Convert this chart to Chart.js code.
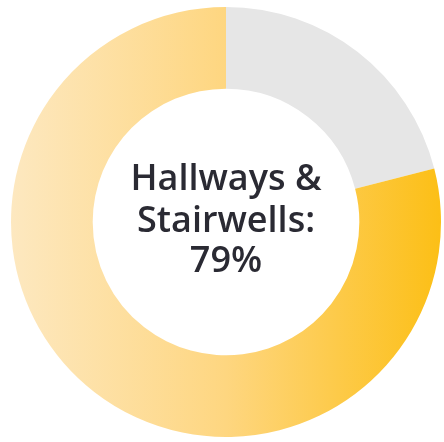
<!DOCTYPE html>
<html>
<head>
<meta charset="utf-8">
<script src="https://cdn.jsdelivr.net/npm/chart.js@4"></script>
<style>
  html, body { margin: 0; padding: 0; background: #fff; }
  #wrap { width: 444px; height: 442px; }
</style>
</head>
<body>
<div id="wrap"><canvas id="shareChart"></canvas></div>
<script>
// share of spaces
const categories = ['Other', 'Hallways & Stairwells'];
const values = [21, 79];
const centerLines = ['Hallways &', 'Stairwells:', '79%'];

(function() {
  const ctx = document.getElementById('shareChart');

  // horizontal yellow ramp across the ring
  function yellowRamp(chart) {
    const area = chart.chartArea;
    if (!area) return '#fdd57c';
    const g = chart.ctx.createLinearGradient(area.left, 0, area.right, 0);
    g.addColorStop(0, '#fde8c0');
    g.addColorStop(0.5, '#fed680');
    g.addColorStop(1, '#fcbf16');
    return g;
  }

  // label in the hole
  const centerText = {
    id: 'centerText',
    afterDraw: function(chart) {
      const meta = chart.getDatasetMeta(0);
      const arc = meta.data[0];
      if (!arc) return;
      const c = chart.ctx;
      c.save();
      c.fillStyle = '#2a2a33';
      c.font = '600 36px "Open Sans"';
      c.textAlign = 'center';
      c.textBaseline = 'alphabetic';
      const offsets = [-32, 10, 50];
      centerLines.forEach(function(line, i) {
        c.fillText(line, arc.x, arc.y + offsets[i]);
      });
      c.restore();
    }
  };

  new Chart(ctx, {
    type: 'doughnut',
    data: {
      labels: categories,
      datasets: [{
        data: values,
        backgroundColor: function(context) {
          if (context.dataIndex === 0) return '#e6e6e6';
          return yellowRamp(context.chart);
        },
        borderWidth: 0
      }]
    },
    options: {
      responsive: true,
      maintainAspectRatio: false,
      animation: false,
      cutout: '62%',
      layout: {
        padding: { left: 11, right: 3, top: 7, bottom: 5 }
      },
      plugins: {
        legend: { display: false },
        tooltip: { enabled: false }
      }
    },
    plugins: [centerText]
  });
})();
</script>
</body>
</html>
